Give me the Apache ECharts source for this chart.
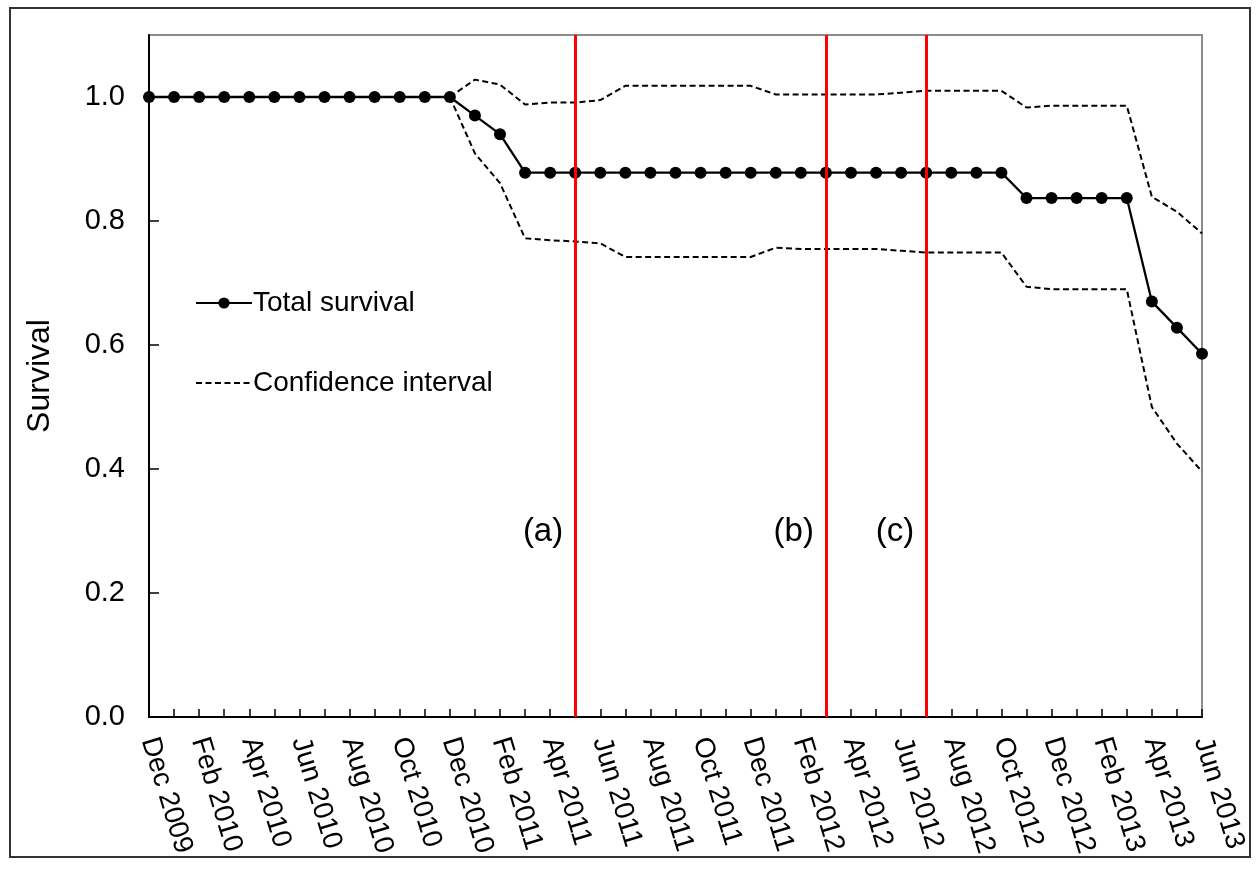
<!DOCTYPE html>
<html>
<head>
<meta charset="utf-8">
<script src="https://cdn.jsdelivr.net/npm/echarts@6/dist/echarts.min.js"></script>
<style>
html,body{margin:0;padding:0;background:#fff;}
#chart{width:1256px;height:869px;}
</style>
</head>
<body>
<div id="chart"></div>
<script>
const months = [
 'Dec 2009','Jan 2010','Feb 2010','Mar 2010','Apr 2010','May 2010','Jun 2010','Jul 2010','Aug 2010','Sep 2010','Oct 2010','Nov 2010',
 'Dec 2010','Jan 2011','Feb 2011','Mar 2011','Apr 2011','May 2011','Jun 2011','Jul 2011','Aug 2011','Sep 2011','Oct 2011','Nov 2011',
 'Dec 2011','Jan 2012','Feb 2012','Mar 2012','Apr 2012','May 2012','Jun 2012','Jul 2012','Aug 2012','Sep 2012','Oct 2012','Nov 2012',
 'Dec 2012','Jan 2013','Feb 2013','Mar 2013','Apr 2013','May 2013','Jun 2013'
];
const survival = [
 1,1,1,1,1,1,1,1,1,1,1,1,
 1,0.970,0.940,0.878,0.878,0.878,0.878,0.878,0.878,0.878,0.878,0.878,
 0.878,0.878,0.878,0.878,0.878,0.878,0.878,0.878,0.878,0.878,0.878,0.837,
 0.837,0.837,0.837,0.837,0.670,0.628,0.586
];
const upperCI = [
 null,null,null,null,null,null,null,null,null,null,null,null,
 1.0,1.028,1.020,0.988,0.991,0.991,0.995,1.018,1.018,1.018,1.018,1.018,
 1.018,1.004,1.004,1.004,1.004,1.004,1.007,1.010,1.010,1.010,1.010,0.983,
 0.986,0.986,0.986,0.986,0.839,0.815,0.780
];
const lowerCI = [
 null,null,null,null,null,null,null,null,null,null,null,null,
 1.0,0.909,0.861,0.772,0.769,0.767,0.764,0.742,0.742,0.742,0.742,0.742,
 0.742,0.757,0.755,0.755,0.755,0.755,0.752,0.749,0.749,0.749,0.749,0.694,
 0.690,0.690,0.690,0.690,0.500,0.441,0.396
];
const eventMonths = ['May 2011','Mar 2012','Jul 2012'];
const eventLabels = ['(a)','(b)','(c)'];
const eventLabelY = 0.298;
const yTicks = {min:0, max:1.1, interval:0.2};

const FONT = 'Liberation Sans, Arial, sans-serif';
const chart = echarts.init(document.getElementById('chart'));
chart.setOption({
  animation:false,
  backgroundColor:'#fff',
  textStyle:{fontFamily:FONT, color:'#000'},
  graphic:[{type:'rect', shape:{x:10,y:8,width:1240,height:849}, style:{fill:'none', stroke:'#333', lineWidth:2}, z:-1}],
  grid:{left:149, right:54, top:35, bottom:152, show:true, borderColor:'#8c8c8c', borderWidth:2, backgroundColor:'#fff'},
  legend:{
    orient:'vertical', left:190, top:284, itemGap:52, itemWidth:56, itemHeight:14,
    textStyle:{fontSize:28, fontFamily:FONT, color:'#000', padding:[0,0,0,-4]},
    data:[
      {name:'Total survival'},
      {name:'Confidence interval', itemStyle:{opacity:0}}
    ]
  },
  xAxis:{
    type:'category', data:months, boundaryGap:false,
    axisLine:{lineStyle:{color:'#000', width:2}},
    axisTick:{show:true, inside:true, length:8, interval:0, lineStyle:{color:'#000', width:1.5}},
    axisLabel:{interval:1, rotate:-73, fontSize:28, color:'#000', fontFamily:FONT, margin:21},
    splitLine:{show:false}
  },
  yAxis:{
    type:'value', min:yTicks.min, max:yTicks.max, interval:yTicks.interval,
    name:'Survival', nameLocation:'middle', nameGap:93, nameTextStyle:{fontSize:32, color:'#000', fontFamily:FONT},
    axisLine:{show:true, lineStyle:{color:'#000', width:2}},
    axisTick:{show:true, inside:true, length:10, lineStyle:{color:'#000', width:1.5}},
    axisLabel:{fontSize:29, color:'#000', fontFamily:FONT, margin:24, formatter:v=>v.toFixed(1), showMaxLabel:false},
    splitLine:{show:false}
  },
  series:[
    {
      name:'Confidence interval', type:'line', data:upperCI, symbol:'none',
      lineStyle:{color:'#000', width:2, type:[6,3.5]}, itemStyle:{color:'#000'}, z:2
    },
    {
      name:'Confidence interval', type:'line', data:lowerCI, symbol:'none',
      lineStyle:{color:'#000', width:2, type:[6,3.5]}, itemStyle:{color:'#000'}, z:2
    },
    {
      name:'Total survival', type:'line', data:survival, symbol:'circle', symbolSize:12,
      lineStyle:{color:'#000', width:2.3}, itemStyle:{color:'#000'}, z:3,
      markLine:{
        silent:true, symbol:'none', label:{show:false},
        lineStyle:{color:'#ff0000', width:3, type:'solid'},
        data:eventMonths.map(m=>({xAxis:m}))
      },
      markPoint:{
        silent:true, symbol:'circle', symbolSize:0,
        label:{show:true, position:'left', distance:12, fontSize:33, color:'#000', fontFamily:FONT,
               formatter:p=>p.name},
        data:eventMonths.map((m,i)=>({name:eventLabels[i], coord:[m, eventLabelY]}))
      }
    }
  ]
});
</script>
</body>
</html>
